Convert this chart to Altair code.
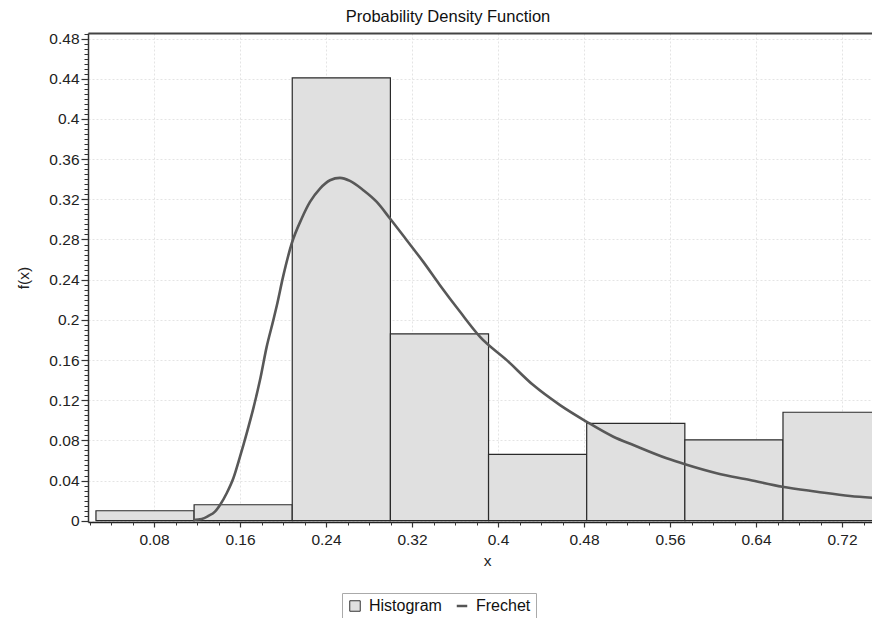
import altair as alt
import pandas as pd

# ---- data ----
bin_start = [0.0260, 0.1173, 0.2086, 0.2999, 0.3912, 0.4825, 0.5738, 0.6651]
bin_end = [0.1173, 0.2086, 0.2999, 0.3912, 0.4825, 0.5738, 0.6651, 0.7564]
density = [0.0099, 0.0159, 0.441, 0.186, 0.066, 0.097, 0.0805, 0.108]

curve_x = [0.1166, 0.1244, 0.1305, 0.1367, 0.1414, 0.1476, 0.1538, 0.1600, 0.1662,
           0.1724, 0.1786, 0.1848, 0.1910, 0.1942, 0.2003, 0.2081, 0.2174, 0.2251,
           0.2344, 0.2437, 0.2530, 0.2623, 0.2747, 0.2872, 0.2995, 0.3151, 0.3305,
           0.3460, 0.3647, 0.3833, 0.4081, 0.4328, 0.4577, 0.4825, 0.5073, 0.5259,
           0.5569, 0.5740, 0.6034, 0.6344, 0.6645, 0.6965, 0.7275, 0.7554]
curve_y = [0.0007, 0.0017, 0.0047, 0.0090, 0.0156, 0.0273, 0.0422, 0.0637, 0.0870,
           0.1118, 0.1400, 0.1731, 0.1997, 0.2140, 0.2440, 0.2760, 0.3009, 0.3174,
           0.3307, 0.3390, 0.3413, 0.3383, 0.3291, 0.3174, 0.3009, 0.2793, 0.2577,
           0.2345, 0.2080, 0.1831, 0.1599, 0.1350, 0.1151, 0.0985, 0.0836, 0.0753,
           0.0621, 0.0561, 0.0472, 0.0405, 0.0338, 0.0289, 0.0246, 0.0223]

series_names = ["Histogram", "Frechet"]

x_major = [0.08, 0.16, 0.24, 0.32, 0.40, 0.48, 0.56, 0.64, 0.72]
y_major = [0, 0.04, 0.08, 0.12, 0.16, 0.20, 0.24, 0.28, 0.32, 0.36, 0.40, 0.44, 0.48]
x_minor = [round(0.02 * i, 2) for i in range(1, 38)]
y_minor = [round(0.005 * i, 3) for i in range(0, 98)]

x_domain = [0.0186, 0.7479]
y_domain = [-0.0013, 0.4856]

FONT = "Liberation Sans"

hist_df = pd.DataFrame({"start": bin_start, "end": bin_end, "density": density})
curve_df = pd.DataFrame({"x": curve_x, "fx": curve_y})
legend_df = pd.DataFrame({"series": series_names})

xscale = alt.Scale(domain=x_domain, nice=False, zero=False)
yscale = alt.Scale(domain=y_domain, nice=False, zero=False)

bars = alt.Chart(hist_df).mark_rect(
    fill="#e0e0e0", stroke="#2a2a2a", strokeWidth=1.2, clip=True
).encode(
    x=alt.X("start:Q", scale=xscale, axis=alt.Axis(
        orient="bottom", values=x_major, format=".2~f", title="x",
        grid=True, gridColor="#e4e4e4", gridDash=[2, 2],
        tickSize=5, tickColor="#333333", tickWidth=1.2,
        domainColor="#222222", domainWidth=1.5,
        labelPadding=5, labelFontSize=15.5, labelColor="#222222", labelFont=FONT,
        titleFontSize=15.5, titleFontWeight="normal", titleFont=FONT, titleColor="#222222",
        titleX=399, titleY=43, titleBaseline="alphabetic")),
    x2="end:Q",
    y=alt.Y("density:Q", scale=yscale, axis=alt.Axis(
        orient="left", values=y_major, format=".2~f", title="f(x)",
        grid=True, gridColor="#e4e4e4", gridDash=[2, 2],
        tickSize=7, tickColor="#333333", tickWidth=1.2,
        domainColor="#333333", domainWidth=1.5,
        labelPadding=2, labelFontSize=15.5, labelColor="#222222", labelFont=FONT,
        titleFontSize=15.5, titleFontWeight="normal", titleFont=FONT, titleColor="#222222",
        titleX=-65, titleY=244.5, titleAngle=-90, titleBaseline="middle", titleAlign="center")),
    y2=alt.datum(0),
)

line = alt.Chart(curve_df).mark_line(
    color="#585858", strokeWidth=2.6, clip=True, interpolate="monotone"
).encode(
    x=alt.X("x:Q", scale=xscale, axis=alt.Axis(
        orient="bottom", values=x_minor, labels=False, domain=False, grid=False,
        tickSize=3, tickColor="#333333", tickWidth=1, title=None)),
    y=alt.Y("fx:Q", scale=yscale, axis=alt.Axis(
        orient="left", values=y_minor, labels=False, domain=False, grid=False,
        tickSize=4, tickColor="#333333", tickWidth=1, title=None)),
)

leg = alt.Legend(
    title=None, orient="none", legendX=254, legendY=560, direction="horizontal",
    gridAlign="all", columnPadding=9, labelFontSize=16, labelFont=FONT,
    labelColor="#111111", labelOffset=6, symbolSize=110, padding=5,
    strokeColor="#aaaaaa", fillColor="white", symbolOpacity=1,
)

legend_layer = alt.Chart(legend_df).mark_point(opacity=0).encode(
    x=alt.X("lx:Q", scale=xscale, axis=alt.Axis(
        orient="top", labels=False, ticks=False, grid=False, domain=True,
        domainColor="#444444", domainWidth=2, title=None)),
    y=alt.Y("ly:Q", scale=yscale, axis=None),
    shape=alt.Shape("series:N", scale=alt.Scale(domain=series_names, range=["square", "stroke"]), legend=leg),
    fill=alt.Fill("series:N", scale=alt.Scale(domain=series_names, range=["#e0e0e0", "transparent"]), legend=leg),
    stroke=alt.Stroke("series:N", scale=alt.Scale(domain=series_names, range=["#333333", "#555555"]), legend=leg),
    strokeWidth=alt.StrokeWidth("series:N", scale=alt.Scale(domain=series_names, range=[1, 2.5]), legend=leg),
)

chart = alt.layer(bars, line, legend_layer).resolve_axis(
    x="independent", y="independent"
).properties(
    width=784, height=489,
    padding={"left": 80, "top": 25, "right": 0, "bottom": 96},
    autosize=alt.AutoSizeParams(type="none"),
    title=alt.TitleParams("Probability Density Function", fontSize=16.5, fontWeight="normal",
                          font=FONT, color="#111111", anchor="middle", frame="group",
                          dx=-32, offset=6),
).configure(font=FONT).configure_view(stroke=None)

chart.save("out.html", embed_options={"renderer": "svg", "actions": False})
